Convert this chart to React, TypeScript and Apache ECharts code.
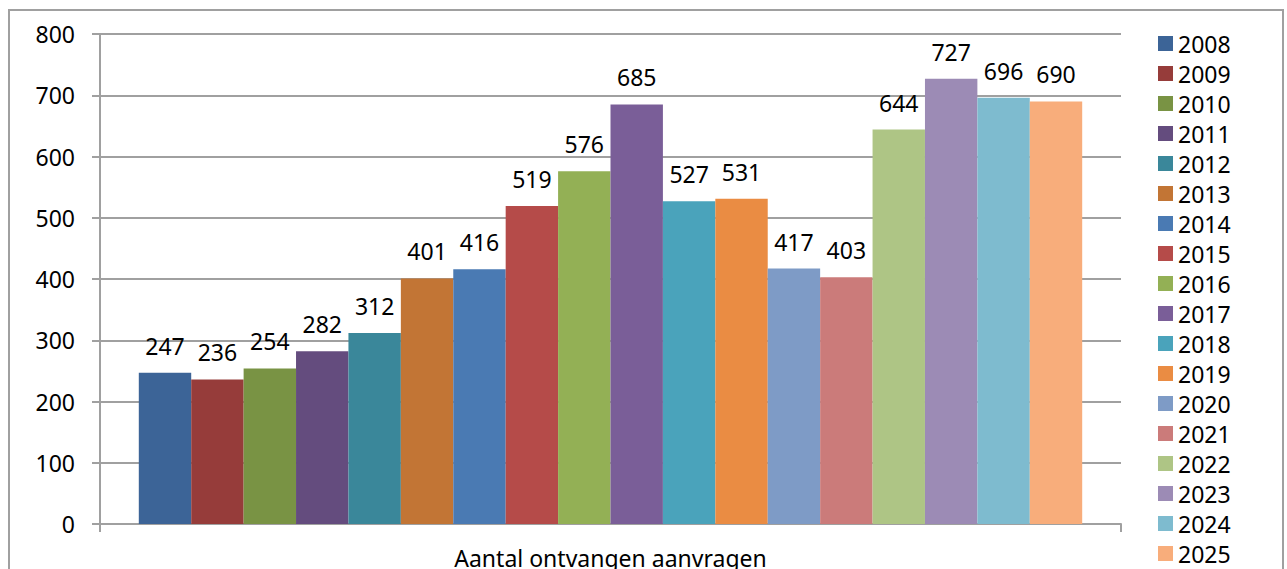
import React, { useEffect, useRef } from "react";
import * as echarts from "echarts";

const category = ["Aantal ontvangen aanvragen"];
const years = ["2008","2009","2010","2011","2012","2013","2014","2015","2016","2017","2018","2019","2020","2021","2022","2023","2024","2025"];
const values = [247, 236, 254, 282, 312, 401, 416, 519, 576, 685, 527, 531, 417, 403, 644, 727, 696, 690];
const colors = ["#3C6497","#963C3A","#799344","#644C7E","#3A879A","#C27535","#4A7AB3","#B54B49","#93B055","#7A5E98","#4AA3BB","#EA8C43","#7E9BC6","#CB7B7A","#AEC585","#9C8BB5","#7EBBCF","#F8AD7B"];
const yTicks = { min: 0, max: 800, interval: 100 };

const FONT = "Noto Sans";
const FS = 23;

export default function App() {
  const ref = useRef<HTMLDivElement>(null);
  useEffect(() => {
    if (!ref.current) return;
    const chart = echarts.init(ref.current, undefined, { renderer: "svg" });
    const series = years.map((y, i) => ({
      name: y,
      type: "bar",
      data: [values[i]],
      barGap: "0%",
      barCategoryGap: "7.6%",
      itemStyle: { color: colors[i] },
      label: {
        show: true,
        position: "top",
        distance: 15,
        color: "#000",
        fontFamily: FONT,
        fontSize: FS,
        lineHeight: 24,
      },
    }));
    chart.setOption({
      animation: false,
      color: colors,
      textStyle: { fontFamily: FONT },
      graphic: [
        {
          type: "rect",
          shape: { x: 9, y: 10, width: 1274, height: 620 },
          style: { fill: "none", stroke: "#a0a0a0", lineWidth: 2 },
          silent: true,
          z: -10,
        },
      ],
      legend: {
        orient: "vertical",
        left: 1153,
        top: 27,
        height: 600,
        itemWidth: 15,
        itemHeight: 15,
        itemGap: 7,
        icon: "rect",
        data: years,
        textStyle: { fontFamily: FONT, fontSize: FS, lineHeight: 22, color: "#000" },
        selectedMode: false,
      },
      grid: { left: 100, right: 166, top: 34, bottom: 44, containLabel: false },
      xAxis: {
        type: "category",
        data: category,
        axisLine: { lineStyle: { color: "#a0a0a0", width: 2 } },
        axisTick: { show: true, length: 8, lineStyle: { color: "#a0a0a0", width: 2 } },
        axisLabel: { color: "#000", fontFamily: FONT, fontSize: FS, margin: 22 },
      },
      yAxis: {
        type: "value",
        min: yTicks.min,
        max: yTicks.max,
        interval: yTicks.interval,
        axisLine: { show: true, lineStyle: { color: "#a0a0a0", width: 2 } },
        axisTick: { show: true, length: 8, lineStyle: { color: "#a0a0a0", width: 2 } },
        splitLine: { show: true, lineStyle: { color: "#a0a0a0", width: 2 } },
        axisLabel: { color: "#000", fontFamily: FONT, fontSize: FS, margin: 25 },
      },
      series,
    });
    return () => chart.dispose();
  }, []);
  return (
    <div
      ref={ref}
      style={{ position: "fixed", left: 0, top: 0, width: 1287, height: 569, background: "#fff" }}
    />
  );
}
